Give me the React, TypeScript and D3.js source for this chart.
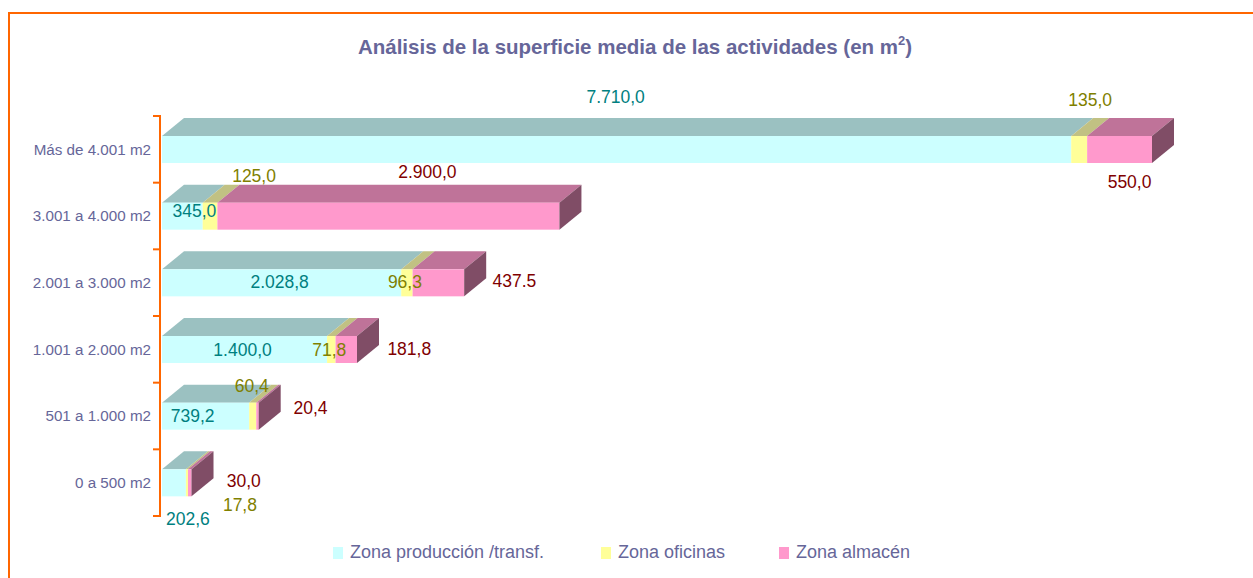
import React from "react";
import * as d3 from "d3";

const categories = [
  "Más de 4.001 m2",
  "3.001 a 4.000 m2",
  "2.001 a 3.000 m2",
  "1.001 a 2.000 m2",
  "501 a 1.000 m2",
  "0 a 500 m2",
];
const seriesNames = ["Zona producción /transf.", "Zona oficinas", "Zona almacén"];
const produccion = [7710, 345, 2028.8, 1400, 739.2, 202.6];
const oficinas = [135, 125, 96.3, 71.8, 60.4, 17.8];
const almacen = [550, 2900, 437.5, 181.8, 20.4, 30];

// label text overrides (as printed in the source)
const labelOverrides: Record<string, string> = { "2-2": "437.5" };

// layout-only: label offsets relative to each segment's front-face centre
const labelOffsets: [number, number][][] = [
  [[-1, -53], [11, -50], [10, 32]],
  [[12, -5], [44, -40], [39, -44]],
  [[-2, -1], [-2, -1], [76, -2]],
  [[-2, 0], [-2, 0], [63, -1]],
  [[-13, 0], [-1, -30], [53, -8]],
  [[14, 36], [53, 22], [54, -2]],
];

const W = 1253;
const H = 578;
const front = ["#CCFFFF", "#FFFF99", "#FF99CC"];
const topC = ["#9BC1C1", "#C1C183", "#BF7399"];
const sideC = ["#6F9A9A", "#9A9A5C", "#804D66"];
const labelC = ["#008080", "#808000", "#800000"];
const textC = "#666699";
const orange = "#FF6600";
const DX = 22;
const DY = 18;

const fmtLocale = d3.formatLocale({ decimal: ",", thousands: ".", grouping: [3], currency: ["", "€"] });
const fmt = fmtLocale.format(",.1f");

export default function App() {
  const series = [produccion, oficinas, almacen];
  const totals = categories.map((_, i) => d3.sum(series, (s) => s[i]));
  const x = d3.scaleLinear().domain([0, d3.max(totals) as number]).range([162, 1152]);
  const y = d3.scaleBand<string>().domain(categories).range([116, 516]).padding(0);
  const bw = y.bandwidth();
  const faceTop = (c: string) => (y(c) as number) + 20;
  const faceH = 27;

  const stacked = d3.stack<number>().keys([0, 1, 2] as any).value((i: any, k: any) => series[k][i])(
    categories.map((_, i) => i) as any
  );

  const ticks = d3.range(categories.length + 1).map((i) => 116 + i * bw);

  return (
    <div style={{ position: "absolute", left: 0, top: 0, width: W, height: H, background: "#fff" }}>
      <svg width={W} height={H} style={{ display: "block", fontFamily: "'Liberation Sans', Arial, sans-serif" }}>
        <rect x={9} y={13} width={W + 20} height={H + 20} fill="#fff" stroke={orange} strokeWidth={2} />
        <text x={635} y={54} textAnchor="middle" fontSize={20.5} fontWeight="bold" fill={textC}>
          Análisis de la superficie media de las actividades (en m
          <tspan dy={-9} fontSize={13}>2</tspan>
          <tspan dy={9}>)</tspan>
        </text>

        {/* axis */}
        <line x1={160} x2={160} y1={116} y2={516} stroke={orange} strokeWidth={2} />
        {ticks.map((t, i) => (
          <line key={i} x1={153} x2={161} y1={t} y2={t} stroke={orange} strokeWidth={2} />
        ))}
        {categories.map((c) => (
          <text key={c} x={151} y={faceTop(c) + faceH / 2} dy="0.35em" textAnchor="end" fontSize={15.2} fill={textC}>
            {c}
          </text>
        ))}

        {/* bars */}
        {categories.map((c, i) => {
          const t = faceTop(c);
          const b = t + faceH;
          const segs = stacked.map((s, k) => ({ k, x0: x(s[i][0]), x1: x(s[i][1]) }));
          const last = segs[segs.length - 1];
          return (
            <g key={c}>
              {segs.map((s) => (
                <g key={s.k}>
                  <polygon
                    points={`${s.x0},${t} ${s.x1},${t} ${s.x1 + DX},${t - DY} ${s.x0 + DX},${t - DY}`}
                    fill={topC[s.k]}
                  />
                  <rect x={s.x0} y={t} width={Math.max(0, s.x1 - s.x0)} height={faceH} fill={front[s.k]} />
                </g>
              ))}
              <polygon
                points={`${last.x1},${t} ${last.x1 + DX},${t - DY} ${last.x1 + DX},${b - DY} ${last.x1},${b}`}
                fill={sideC[last.k]}
              />
            </g>
          );
        })}

        {/* labels */}
        {categories.map((c, i) => {
          const cy = faceTop(c) + faceH / 2;
          return stacked.map((s, k) => {
            const cx = (x(s[i][0]) + x(s[i][1])) / 2;
            const [ox, oy] = labelOffsets[i][k];
            const txt = labelOverrides[`${i}-${k}`] ?? fmt(series[k][i]);
            return (
              <text
                key={`${i}-${k}`}
                x={cx + ox}
                y={cy + oy}
                dy="0.35em"
                textAnchor="middle"
                fontSize={17.5}
                fill={labelC[k]}
              >
                {txt}
              </text>
            );
          });
        })}

        {/* legend */}
        {seriesNames.map((n, k) => {
          const lx = [333, 601, 779][k];
          return (
            <g key={n}>
              <rect x={lx} y={547} width={10} height={12} fill={front[k]} />
              <text x={lx + 17} y={558} fontSize={18} fill={textC}>
                {n}
              </text>
            </g>
          );
        })}
      </svg>
    </div>
  );
}
